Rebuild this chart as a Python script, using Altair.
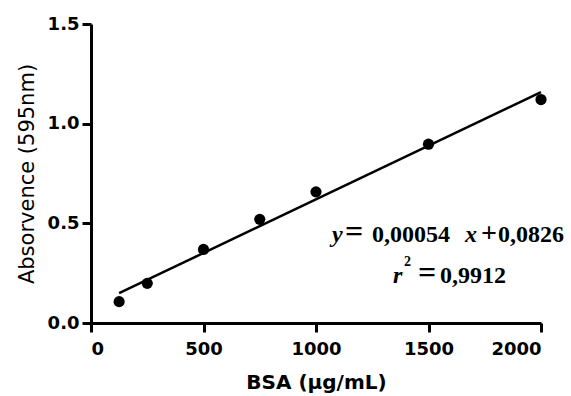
import altair as alt
import pandas as pd

# Data
bsa = [125, 250, 500, 750, 1000, 1500, 2000]
absorbance = [0.107, 0.199, 0.369, 0.52, 0.658, 0.897, 1.121]
x_ticks = [0, 500, 1000, 1500, 2000]
y_ticks = [0.0, 0.5, 1.0, 1.5]

df = pd.DataFrame({"bsa": bsa, "abs": absorbance})

xenc = alt.X("bsa:Q", scale=alt.Scale(domain=[0, 2000], nice=False, zero=True),
             axis=alt.Axis(values=x_ticks, format="d", title="BSA (µg/mL)",
                           labelFont="DejaVu Sans", labelFontWeight="bold", labelFontSize=18,
                           labelColor="black", labelPadding=8,
                           tickSize=9, tickWidth=3, tickColor="black",
                           domainWidth=3, domainColor="black", grid=False,
                           titleFont="DejaVu Sans", titleFontWeight="bold", titleFontSize=20,
                           titleColor="black", titlePadding=14))
yenc = alt.Y("abs:Q", scale=alt.Scale(domain=[0, 1.5], nice=False),
             axis=alt.Axis(values=y_ticks, format=".1f", title="Absorvence (595nm)",
                           labelFont="DejaVu Sans", labelFontWeight="bold", labelFontSize=18,
                           labelColor="black", labelPadding=3,
                           tickSize=9, tickWidth=3, tickColor="black",
                           domainWidth=3, domainColor="black", grid=False,
                           titleFont="DejaVu Sans", titleFontWeight=500, titleFontSize=21,
                           titleColor="black", titlePadding=10))

base = alt.Chart(df)
points = base.mark_point(filled=True, shape="circle", size=125, color="black", opacity=1).encode(
    x=xenc, y=yenc)
fit = base.transform_regression("bsa", "abs", extent=[125, 2000]).mark_line(
    color="black", strokeWidth=2.5).encode(x="bsa:Q", y="abs:Q")

one = pd.DataFrame({"k": [0]})


def label(text, x, y, italic=False, size=24):
    return alt.Chart(one).mark_text(
        text=text, font="Liberation Serif", fontWeight="bold",
        fontStyle="italic" if italic else "normal", fontSize=size,
        align="left", baseline="alphabetic", color="black"
    ).encode(x=alt.value(x), y=alt.value(y))


eq = [
    label("y", 241, 218, True),
    label("=", 254, 218, False, 32),
    label("0,00054", 281, 218),
    label("x", 374, 218, True),
    label("+", 390, 218, False, 28),
    label("0,0826", 407, 218),
    label("r", 302, 259, True),
    label("2", 313, 242, False, 14),
    label("=", 327, 259, False, 32),
    label("0,9912", 349, 259),
]

chart = alt.layer(fit, points, *eq).properties(
    width=450, height=299,
    autosize=alt.AutoSizeParams(type="none"),
    padding={"left": 91, "top": 24, "right": 30, "bottom": 73},
    background="white",
).configure_view(stroke=None)

chart.save("out.html", embed_options={"renderer": "svg", "actions": False})
